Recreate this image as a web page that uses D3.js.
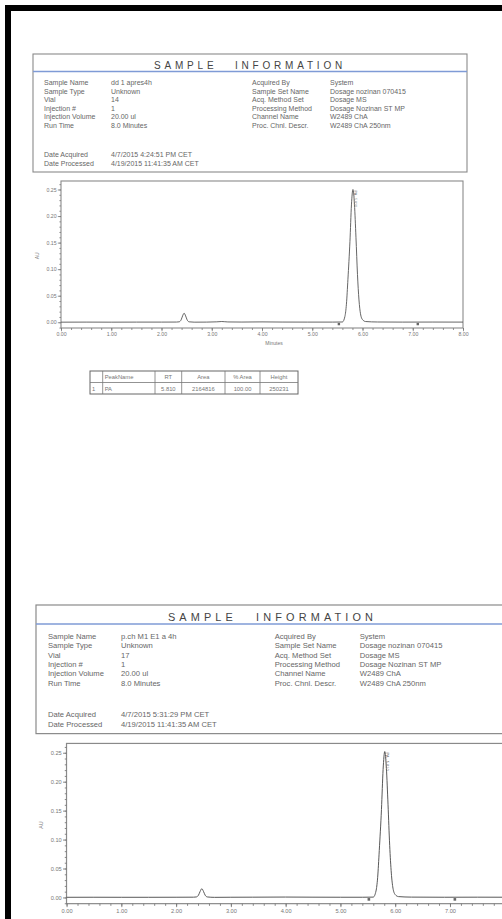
<!DOCTYPE html>
<html>
<head>
<meta charset="utf-8">
<script src="https://cdn.jsdelivr.net/npm/d3@7"></script>
<style>
  html, body { margin: 0; padding: 0; background: #fff; }
  svg { display: block; font-family: "Liberation Sans", Arial, sans-serif; }
</style>
</head>
<body>
<svg id="page"></svg>
<script>
// sample information fields
const leftLabels = ["Sample Name", "Sample Type", "Vial", "Injection #", "Injection Volume", "Run Time"];
const leftValues1 = ["dd 1 apres4h", "Unknown", "14", "1", "20.00 ul", "8.0 Minutes"];
const leftValues2 = ["p.ch  M1 E1 a 4h", "Unknown", "17", "1", "20.00 ul", "8.0 Minutes"];
const rightLabels = ["Acquired By", "Sample Set Name", "Acq. Method Set", "Processing Method", "Channel Name", "Proc. Chnl. Descr."];
const rightValues = ["System", "Dosage nozinan 070415", "Dosage MS", "Dosage Nozinan ST MP", "W2489 ChA", "W2489 ChA 250nm"];
const dateLabels = ["Date Acquired", "Date Processed"];
const dates1 = ["4/7/2015 4:24:51 PM CET", "4/19/2015 11:41:35 AM CET"];
const dates2 = ["4/7/2015 5:31:29 PM CET", "4/19/2015 11:41:35 AM CET"];

// chromatogram traces: [minutes, AU]
const trace1 = [
  [0.00, 0.0002], [0.50, 0.0003], [1.00, 0.0002], [1.50, 0.0003], [2.00, 0.0003], [2.30, 0.0004],
  [2.35, 0.0008], [2.39, 0.0045], [2.42, 0.0120], [2.45, 0.0170], [2.48, 0.0120], [2.51, 0.0045],
  [2.55, 0.0008], [2.65, 0.0002], [2.90, 0.0003], [3.10, 0.0008], [3.20, 0.0014], [3.32, 0.0006],
  [3.60, 0.0004], [4.00, 0.0007], [4.40, 0.0004], [4.90, 0.0003], [5.40, 0.0003], [5.60, 0.0005],
  [5.65, 0.0110], [5.68, 0.0340], [5.71, 0.0810], [5.75, 0.1520], [5.78, 0.2210], [5.81, 0.2500],
  [5.84, 0.2220], [5.87, 0.1600], [5.90, 0.0900], [5.93, 0.0420], [5.96, 0.0160], [6.00, 0.0050],
  [6.06, 0.0014], [6.30, 0.0005], [6.80, 0.0003], [7.40, 0.0004], [8.00, 0.0003]
];
const trace2 = [
  [0.00, 0.0002], [0.50, 0.0003], [1.00, 0.0002], [1.50, 0.0002], [2.00, 0.0003], [2.32, 0.0004],
  [2.37, 0.0008], [2.41, 0.0040], [2.44, 0.0105], [2.47, 0.0150], [2.50, 0.0105], [2.53, 0.0040],
  [2.57, 0.0008], [2.70, 0.0001], [3.00, 0.0003], [3.40, 0.0004], [4.00, 0.0006], [4.50, 0.0004],
  [5.00, 0.0003], [5.40, 0.0003], [5.60, 0.0005], [5.65, 0.0110], [5.68, 0.0340], [5.71, 0.0810],
  [5.75, 0.1520], [5.78, 0.2210], [5.81, 0.2520], [5.84, 0.2230], [5.87, 0.1600], [5.90, 0.0900],
  [5.93, 0.0420], [5.96, 0.0160], [6.00, 0.0050], [6.06, 0.0014], [6.30, 0.0005], [6.90, 0.0003],
  [7.50, 0.0004], [8.00, 0.0003]
];
const markers1 = [5.53, 7.10];
const markers2 = [5.52, 7.09];
const peakLabel = "PA - 5.810";

const xTicks = [0, 1, 2, 3, 4, 5, 6, 7, 8];
const yTicks = [0.00, 0.05, 0.10, 0.15, 0.20, 0.25];

// peak table
const tableHeader = ["", "PeakName", "RT", "Area", "% Area", "Height"];
const tableRow = ["1", "PA", "5.810", "2164816", "100.00", "250231"];

const width = 502;
const height = 919;
const ink = "#555";
const grey = "#8a8a8a";

const svg = d3.select("#page")
    .attr("width", width)
    .attr("height", height)
    .attr("viewBox", [0, 0, width, height]);

svg.append("rect").attr("width", width).attr("height", height).attr("fill", "#fdfdfd");
// black scan frame (right and bottom run off the page)
svg.append("rect")
    .attr("x", 8).attr("y", 8)
    .attr("width", 520).attr("height", 940)
    .attr("fill", "#fff")
    .attr("stroke", "#000")
    .attr("stroke-width", 6);

function drawReport(g, opts) {
    // info box
    g.append("rect")
        .attr("x", 0).attr("y", 0).attr("width", 434).attr("height", 118)
        .attr("fill", "none").attr("stroke", grey).attr("stroke-width", 1.1);
    g.append("text")
        .attr("x", 217).attr("y", 14.5)
        .attr("text-anchor", "middle")
        .attr("font-size", 10)
        .attr("letter-spacing", 3.8)
        .attr("word-spacing", 11)
        .attr("fill", "#444")
        .text("SAMPLE INFORMATION");
    g.append("line")
        .attr("x1", 0).attr("x2", 434).attr("y1", 17.5).attr("y2", 17.5)
        .attr("stroke", "#7f9bd6").attr("stroke-width", 1.4);

    const rowY = d3.scaleLinear().domain([0, 1]).range([31, 39.6]);
    const info = g.append("g").attr("font-size", 7).attr("fill", "#666");
    const cols = [
        [11, leftLabels], [78, opts.leftValues], [219, rightLabels], [297, rightValues]
    ];
    cols.forEach(([cx, list]) => {
        info.selectAll(null).data(list).join("text")
            .attr("x", cx).attr("y", (d, i) => rowY(i))
            .text(d => d);
    });
    info.selectAll(null).data(dateLabels).join("text")
        .attr("x", 11).attr("y", (d, i) => rowY(i) + 72)
        .text(d => d);
    info.selectAll(null).data(opts.dates).join("text")
        .attr("x", 78).attr("y", (d, i) => rowY(i) + 72)
        .text(d => d);

    // chromatogram
    const x = d3.scaleLinear().domain([0, 8]).range([28, 430]);
    const y = d3.scaleLinear().domain([-0.0108, 0.266]).range([274, 127]);

    g.append("rect")
        .attr("x", x(0)).attr("y", y(0.266))
        .attr("width", x(8) - x(0)).attr("height", y(-0.0108) - y(0.266))
        .attr("fill", "none").attr("stroke", grey).attr("stroke-width", 1.1);

    const axisStyle = sel => {
        sel.select(".domain").remove();
        sel.selectAll("line").attr("stroke", "#777").attr("stroke-width", 0.8);
        sel.selectAll("text").attr("fill", "#777").attr("font-size", 5.2)
            .attr("font-family", "'Liberation Sans', Arial, sans-serif");
    };

    g.append("g")
        .attr("transform", `translate(0,${y(-0.0108)})`)
        .call(d3.axisBottom(x).tickValues(d3.range(0, 8.001, 0.2)).tickSize(2).tickFormat(""))
        .call(axisStyle);
    g.append("g")
        .attr("transform", `translate(0,${y(-0.0108)})`)
        .call(d3.axisBottom(x).tickValues(opts.xTicks).tickSize(3.2).tickPadding(1.5).tickFormat(d3.format(".2f")))
        .call(axisStyle);

    g.append("g")
        .attr("transform", `translate(${x(0)},0)`)
        .call(d3.axisLeft(y).tickValues(d3.range(-0.01, 0.2651, 0.01)).tickSize(1.6).tickFormat(""))
        .call(axisStyle);
    g.append("g")
        .attr("transform", `translate(${x(0)},0)`)
        .call(d3.axisLeft(y).tickValues(yTicks).tickSize(3.2).tickPadding(1.2).tickFormat(d3.format(".2f")))
        .call(axisStyle);

    g.append("text")
        .attr("transform", `translate(6,${y(0.125)}) rotate(-90)`)
        .attr("text-anchor", "middle")
        .attr("font-size", 5)
        .attr("fill", "#777")
        .text("AU");
    if (opts.table) {
        g.append("text")
            .attr("x", (x(0) + x(8)) / 2 + 12).attr("y", y(-0.0108) + 17)
            .attr("text-anchor", "middle")
            .attr("font-size", 5)
            .attr("fill", "#777")
            .text("Minutes");
    }

    const line = d3.line()
        .x(d => x(d[0]))
        .y(d => y(d[1]))
        .curve(d3.curveMonotoneX);
    g.append("path")
        .datum(opts.trace)
        .attr("d", line)
        .attr("fill", "none")
        .attr("stroke", ink)
        .attr("stroke-width", 0.9);

    g.selectAll(null).data(opts.markers).join("rect")
        .attr("x", d => x(d) - 1.2).attr("y", y(0) + 0.6)
        .attr("width", 2.4).attr("height", 2.4)
        .attr("fill", "#666");

    // vertical peak label along the apex
    const apex = opts.trace.reduce((a, b) => (b[1] > a[1] ? b : a));
    g.append("text")
        .attr("transform", `translate(${x(apex[0]) + 1.3},${y(apex[1]) + 1}) rotate(90)`)
        .attr("font-size", 3.6)
        .attr("fill", "#777")
        .text(peakLabel);

    if (opts.table) {
        const colX = [57, 69.7, 122, 148.7, 192, 227, 265];
        const t = g.append("g");
        t.append("rect")
            .attr("x", colX[0]).attr("y", 317)
            .attr("width", colX[6] - colX[0]).attr("height", 23)
            .attr("fill", "none").attr("stroke", "#666").attr("stroke-width", 1);
        t.append("line")
            .attr("x1", colX[0]).attr("x2", colX[6]).attr("y1", 328.5).attr("y2", 328.5)
            .attr("stroke", "#777").attr("stroke-width", 0.8);
        t.selectAll(null).data(colX.slice(1, 6)).join("line")
            .attr("x1", d => d).attr("x2", d => d).attr("y1", 317).attr("y2", 340)
            .attr("stroke", "#777").attr("stroke-width", 0.8);
        const cellText = (row, yy) => {
            t.selectAll(null).data(row).join("text")
                .attr("x", (d, i) => i < 2 ? colX[i] + 2 : (colX[i] + colX[i + 1]) / 2)
                .attr("y", yy)
                .attr("text-anchor", (d, i) => i < 2 ? "start" : "middle")
                .attr("font-size", 5.8)
                .attr("fill", "#777")
                .text(d => d);
        };
        cellText(tableHeader, 325.2);
        cellText(tableRow, 336.8);
    }
}

drawReport(svg.append("g").attr("transform", "translate(33,54)"), {
    leftValues: leftValues1, dates: dates1, trace: trace1, markers: markers1,
    xTicks: xTicks, table: true
});
// second report is larger on the scan; its right end runs off the page
drawReport(svg.append("g").attr("transform", "translate(36,605) scale(1.09)"), {
    leftValues: leftValues2, dates: dates2, trace: trace2, markers: markers2,
    xTicks: xTicks.slice(0, 8), table: false
});
</script>
</body>
</html>
